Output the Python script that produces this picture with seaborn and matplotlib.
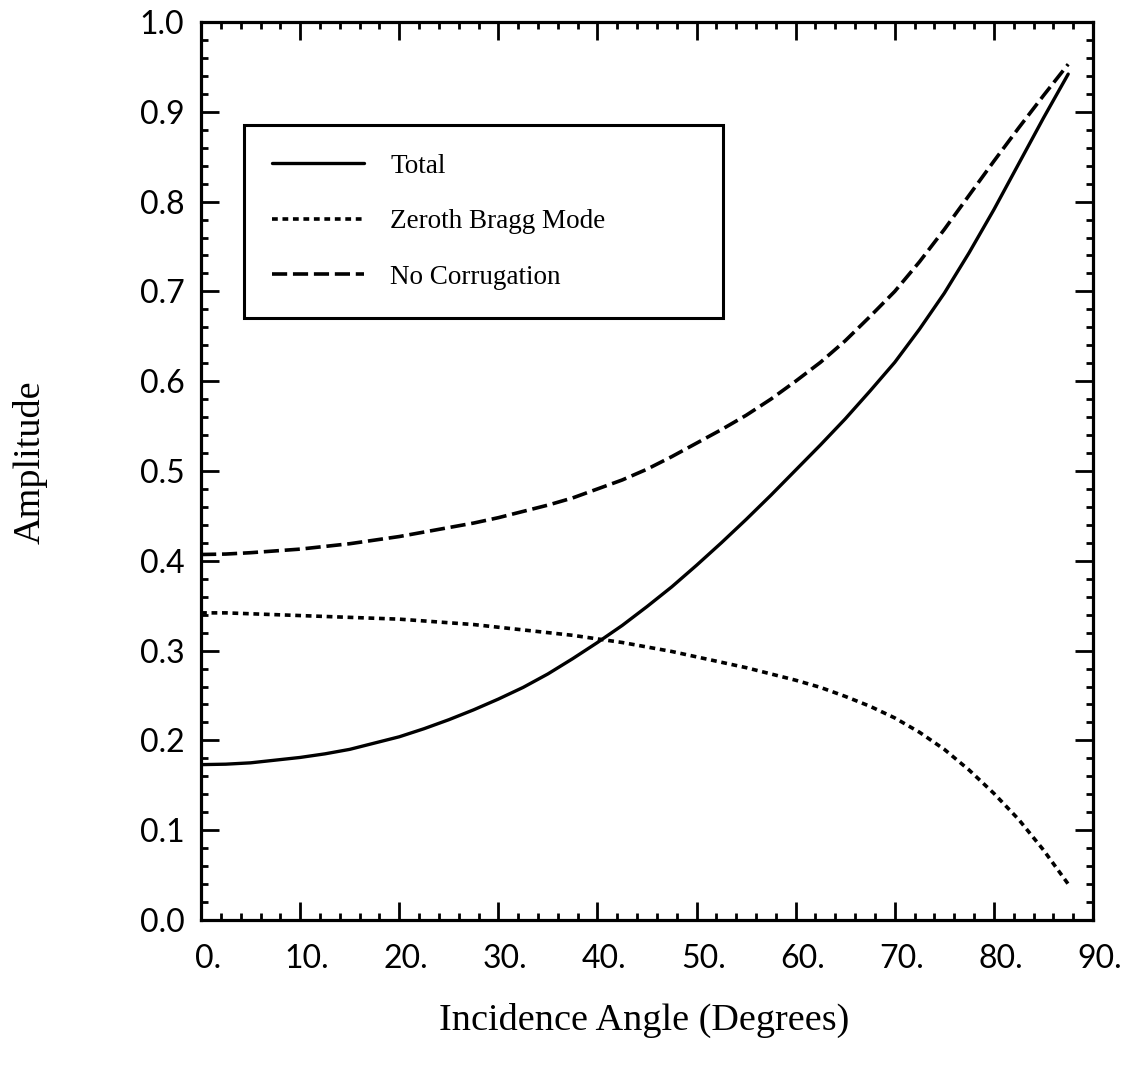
import numpy as np
import pandas as pd
import matplotlib
matplotlib.use("Agg")
import matplotlib.pyplot as plt
from matplotlib.ticker import MultipleLocator, FormatStrFormatter
from matplotlib.transforms import ScaledTranslation
import seaborn as sns

# Incidence angle (degrees)
angle = [0, 2.5, 5, 7.5, 10, 12.5, 15, 17.5, 20, 22.5, 25, 27.5, 30, 32.5, 35, 37.5,
         40, 42.5, 45, 47.5, 50, 52.5, 55, 57.5, 60, 62.5, 65, 67.5, 70, 72.5, 75,
         77.5, 80, 82.5, 85, 87.5]

# Reflected amplitude, total
total = [0.173, 0.1735, 0.175, 0.178, 0.181, 0.185, 0.190, 0.197, 0.204, 0.213,
         0.223, 0.234, 0.246, 0.259, 0.274, 0.291, 0.309, 0.328, 0.349, 0.371,
         0.395, 0.420, 0.446, 0.473, 0.501, 0.529, 0.558, 0.589, 0.621, 0.658,
         0.698, 0.743, 0.791, 0.842, 0.893, 0.942]

# Amplitude carried by the zeroth Bragg mode
zeroth = [0.342, 0.342, 0.341, 0.340, 0.339, 0.338, 0.337, 0.336, 0.335, 0.333,
          0.331, 0.329, 0.326, 0.323, 0.320, 0.317, 0.313, 0.309, 0.304, 0.299,
          0.293, 0.287, 0.281, 0.274, 0.267, 0.259, 0.249, 0.238, 0.225, 0.209,
          0.190, 0.167, 0.141, 0.112, 0.078, 0.040]

# Amplitude for the flat (uncorrugated) interface
flat = [0.407, 0.4075, 0.409, 0.411, 0.413, 0.416, 0.419, 0.423, 0.427, 0.432,
        0.437, 0.442, 0.448, 0.455, 0.462, 0.470, 0.480, 0.490, 0.502, 0.516,
        0.531, 0.546, 0.562, 0.580, 0.600, 0.621, 0.645, 0.672, 0.700, 0.733,
        0.769, 0.807, 0.845, 0.882, 0.918, 0.953]

series_names = ["Total", "Zeroth Bragg Mode", "No Corrugation"]

sns.set_theme(style="ticks")
plt.rcParams["font.family"] = ["Liberation Serif", "DejaVu Serif"]

fig = plt.figure(figsize=(11.27, 10.68), dpi=100)
ax = fig.add_axes([0.1784, 0.1386, 0.7914, 0.8408])

sns.lineplot(x=angle, y=total, ax=ax, color="black", linewidth=2.4,
             linestyle="-", label=series_names[0])
sns.lineplot(x=angle, y=zeroth, ax=ax, color="black", linewidth=2.6,
             linestyle=(0, (1.6, 1.3)), label=series_names[1])
sns.lineplot(x=angle, y=flat, ax=ax, color="black", linewidth=2.6,
             linestyle=(0, (4.2, 1.6)), label=series_names[2])

ax.set_xlim(0, 90)
ax.set_ylim(0, 1.0)
ax.xaxis.set_major_locator(MultipleLocator(10))
ax.xaxis.set_minor_locator(MultipleLocator(2))
ax.yaxis.set_major_locator(MultipleLocator(0.1))
ax.yaxis.set_minor_locator(MultipleLocator(0.02))
ax.xaxis.set_major_formatter(FormatStrFormatter("%d."))
ax.yaxis.set_major_formatter(FormatStrFormatter("%.1f"))

for sp in ax.spines.values():
    sp.set_visible(True)
    sp.set_linewidth(2.3)
    sp.set_color("black")

ax.tick_params(which="both", direction="in", top=True, right=True,
               color="black", width=2.0)
ax.tick_params(which="major", length=13)
ax.tick_params(which="minor", length=5)
ax.tick_params(axis="y", which="major", pad=12)
ax.tick_params(axis="x", which="major", pad=17)
for lab in ax.get_xticklabels() + ax.get_yticklabels():
    lab.set_fontfamily(["Lato", "DejaVu Sans"])
    lab.set_fontsize(23)
    lab.set_color("black")

# nudge the x tick labels a little to the right of their ticks
shift = ScaledTranslation(7 / 100, 0, fig.dpi_scale_trans)
for lab in ax.get_xticklabels():
    lab.set_transform(lab.get_transform() + shift)

ax.set_xlabel("Incidence Angle (Degrees)", fontsize=27.5, color="black")
ax.set_ylabel("Amplitude", fontsize=27.5, color="black")
ax.xaxis.label.set_va("center")
ax.yaxis.label.set_va("center")
ax.xaxis.set_label_coords(0.497, -0.112)
ax.yaxis.set_label_coords(-0.192, 0.51)

leg = ax.legend(loc="upper left", bbox_to_anchor=(0.048, 0.672, 0.537, 0.213),
                mode="expand", fontsize=19.5, frameon=True, fancybox=False,
                shadow=False, borderpad=1.05, labelspacing=1.13,
                handlelength=3.4, handletextpad=0.95, borderaxespad=0.0)
frame = leg.get_frame()
frame.set_edgecolor("black")
frame.set_linewidth(2.2)
frame.set_facecolor("white")
frame.set_alpha(1.0)
for t in leg.get_texts():
    t.set_color("black")

fig.savefig("out.png", dpi=100, facecolor="white")
